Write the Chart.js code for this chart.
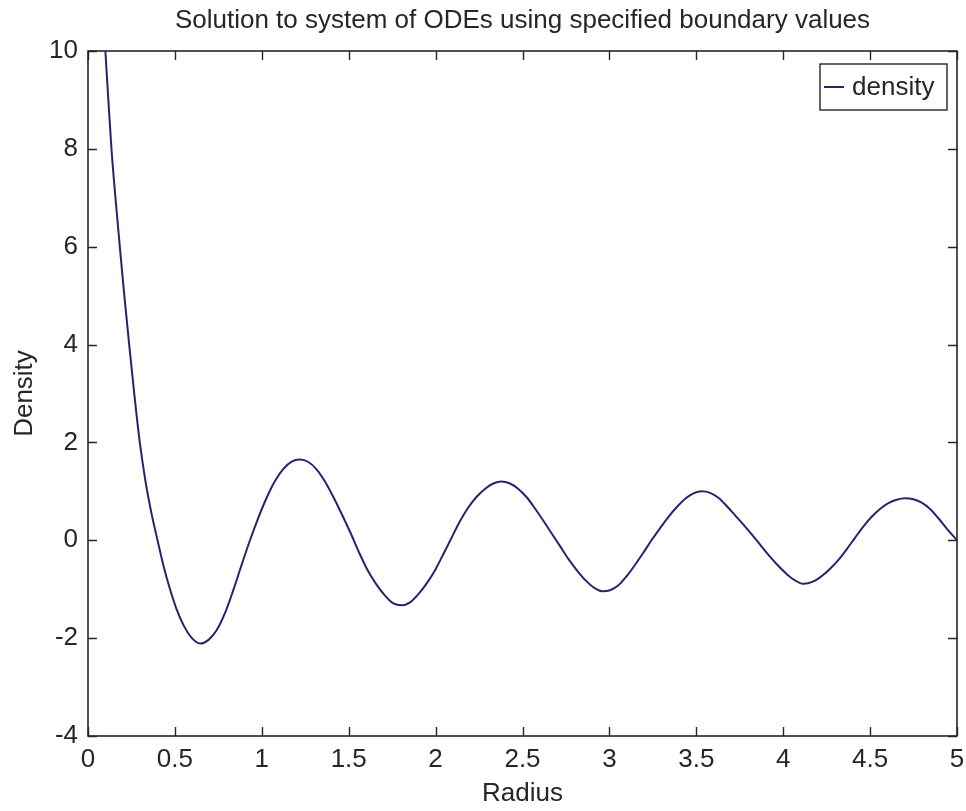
<!DOCTYPE html>
<html>
<head>
<meta charset="utf-8">
<title>Density vs Radius</title>
<script src="https://cdn.jsdelivr.net/npm/chart.js@4.4.0/dist/chart.umd.min.js"></script>
<style>
  html, body { margin: 0; padding: 0; background: #ffffff; }
  #wrap { width: 966px; height: 811px; }
</style>
</head>
<body>
<div id="wrap"><canvas id="c" width="966" height="811"></canvas></div>
<script>
// Radius samples and the density solution at each one
const radius = [
  0.100, 0.117, 0.135, 0.158, 0.183, 0.209, 0.237, 0.266, 0.298, 0.332,
  0.366, 0.400, 0.435, 0.472, 0.510, 0.553, 0.598, 0.645, 0.692, 0.740,
  0.788, 0.836, 0.884, 0.932, 0.980, 1.028, 1.076, 1.124, 1.172, 1.220,
  1.268, 1.315, 1.360, 1.405, 1.450, 1.507, 1.565, 1.613, 1.661, 1.709,
  1.757, 1.805, 1.853, 1.901, 1.949, 1.997, 2.045, 2.093, 2.140, 2.188,
  2.236, 2.284, 2.332, 2.380, 2.428, 2.476, 2.524, 2.572, 2.620, 2.668,
  2.716, 2.764, 2.812, 2.860, 2.908, 2.956, 3.004, 3.052, 3.100, 3.148,
  3.196, 3.244, 3.292, 3.340, 3.388, 3.436, 3.484, 3.531, 3.579, 3.627,
  3.675, 3.723, 3.771, 3.819, 3.867, 3.915, 3.963, 4.011, 4.059, 4.116,
  4.174, 4.222, 4.270, 4.318, 4.366, 4.413, 4.461, 4.509, 4.557, 4.605,
  4.653, 4.701, 4.749, 4.797, 4.845, 4.893, 4.941, 5.000
];
const density = [
  10.00, 9.00, 8.00, 7.00, 6.00, 5.00, 4.00, 3.00, 2.00, 1.18,
  0.54, 0.00, -0.53, -1.00, -1.41, -1.76, -2.00, -2.11, -2.04, -1.84,
  -1.49, -1.02, -0.50, 0.00, 0.46, 0.87, 1.21, 1.46, 1.61, 1.65,
  1.60, 1.45, 1.22, 0.93, 0.61, 0.18, -0.29, -0.64, -0.91, -1.13,
  -1.29, -1.33, -1.27, -1.10, -0.88, -0.61, -0.28, 0.06, 0.39, 0.67,
  0.89, 1.05, 1.16, 1.20, 1.16, 1.05, 0.88, 0.65, 0.40, 0.14,
  -0.12, -0.38, -0.61, -0.81, -0.96, -1.04, -1.02, -0.92, -0.73, -0.50,
  -0.25, 0.01, 0.25, 0.48, 0.68, 0.85, 0.96, 1.00, 0.97, 0.87,
  0.70, 0.51, 0.32, 0.12, -0.09, -0.30, -0.49, -0.66, -0.80, -0.89,
  -0.84, -0.73, -0.58, -0.40, -0.18, 0.05, 0.28, 0.48, 0.64, 0.76,
  0.83, 0.86, 0.84, 0.77, 0.64, 0.45, 0.24, 0.00
];
const xTicks = [0, 0.5, 1, 1.5, 2, 2.5, 3, 3.5, 4, 4.5, 5];
const yTicks = [-4, -2, 0, 2, 4, 6, 8, 10];

const seriesName = 'density';
const titleText = 'Solution to system of ODEs using specified boundary values';
const xLabel = 'Radius';
const yLabel = 'Density';

const FONT = '"Liberation Sans", Arial, sans-serif';
const INK = '#262626';
const LINE = '#25256e';

// Title over the axes box, box frame, inward ticks on all sides, boxed legend
const framePlugin = {
  id: 'frame',
  afterDatasetsDraw(chart) {
    const { ctx, chartArea: a, scales } = chart;
    const L = 9;
    ctx.save();

    ctx.fillStyle = INK;
    ctx.font = '26px ' + FONT;
    ctx.textAlign = 'center';
    ctx.textBaseline = 'alphabetic';
    ctx.fillText(titleText, (a.left + a.right) / 2, a.top - 23);

    ctx.strokeStyle = INK;
    ctx.lineWidth = 1.4;
    ctx.beginPath();
    for (const v of xTicks) {
      const px = Math.round(scales.x.getPixelForValue(v)) + 0.5;
      ctx.moveTo(px, a.bottom); ctx.lineTo(px, a.bottom - L);
      ctx.moveTo(px, a.top); ctx.lineTo(px, a.top + L);
    }
    for (const v of yTicks) {
      const py = Math.round(scales.y.getPixelForValue(v)) + 0.5;
      ctx.moveTo(a.left, py); ctx.lineTo(a.left + L, py);
      ctx.moveTo(a.right, py); ctx.lineTo(a.right - L, py);
    }
    ctx.stroke();
    ctx.lineWidth = 1.6;
    ctx.strokeRect(a.left, a.top, a.right - a.left, a.bottom - a.top);

    // legend box in the upper-right corner
    const bx = a.right - 137, by = a.top + 13, bw = 127, bh = 46;
    ctx.fillStyle = '#ffffff';
    ctx.fillRect(bx, by, bw, bh);
    ctx.lineWidth = 1.4;
    ctx.strokeStyle = INK;
    ctx.strokeRect(bx, by, bw, bh);
    const ds = chart.data.datasets[0];
    ctx.strokeStyle = ds.borderColor;
    ctx.lineWidth = 2;
    ctx.beginPath();
    ctx.moveTo(bx + 4, by + bh / 2);
    ctx.lineTo(bx + 24, by + bh / 2);
    ctx.stroke();
    ctx.fillStyle = INK;
    ctx.font = '26px ' + FONT;
    ctx.textBaseline = 'middle';
    ctx.textAlign = 'left';
    ctx.fillText(ds.label, bx + 32, by + bh / 2 + 1);
    ctx.restore();
  }
};

new Chart(document.getElementById('c'), {
  type: 'line',
  data: {
    datasets: [{
      label: seriesName,
      data: radius.map((r, i) => ({ x: r, y: density[i] })),
      borderColor: LINE,
      borderWidth: 2,
      pointRadius: 0,
      cubicInterpolationMode: 'monotone',
      fill: false
    }]
  },
  options: {
    responsive: false,
    animation: false,
    devicePixelRatio: 1,
    layout: { padding: { left: 0, right: 9, top: 51, bottom: 0 } },
    plugins: {
      legend: { display: false },
      tooltip: { enabled: false },
      title: { display: false }
    },
    scales: {
      x: {
        type: 'linear',
        min: 0, max: 5,
        afterBuildTicks: s => { s.ticks = xTicks.map(v => ({ value: v })); },
        afterFit: s => { s.height = 75; s.paddingLeft = 0; s.paddingRight = 0; },
        ticks: {
          color: INK,
          font: { family: FONT, size: 26 },
          padding: 8,
          maxRotation: 0,
          autoSkip: false,
          callback: v => String(v)
        },
        grid: { display: false, drawTicks: false },
        border: { display: false },
        title: {
          display: true,
          text: xLabel,
          color: INK,
          font: { family: FONT, size: 26 },
          padding: { top: 2, bottom: 2 }
        }
      },
      y: {
        type: 'linear',
        min: -4, max: 10,
        afterBuildTicks: s => { s.ticks = yTicks.map(v => ({ value: v })); },
        afterFit: s => { s.width = 88; s.paddingTop = 0; s.paddingBottom = 0; },
        ticks: {
          color: INK,
          font: { family: FONT, size: 26 },
          padding: 10,
          autoSkip: false,
          callback: v => String(v)
        },
        grid: { display: false, drawTicks: false },
        border: { display: false },
        title: {
          display: true,
          text: yLabel,
          color: INK,
          font: { family: FONT, size: 26 },
          padding: { top: 9, bottom: 9 }
        }
      }
    }
  },
  plugins: [framePlugin]
});
</script>
</body>
</html>
